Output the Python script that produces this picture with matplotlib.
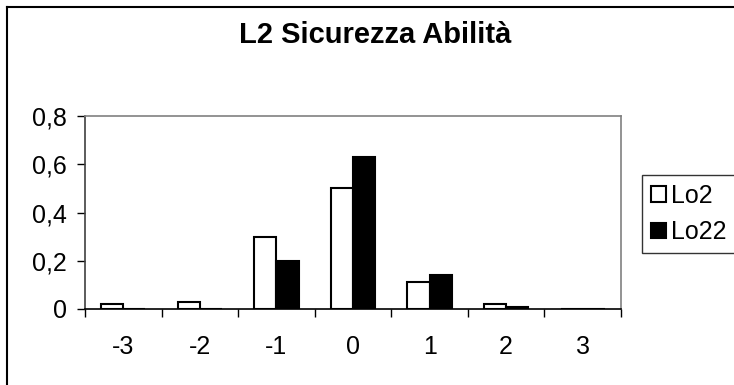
import numpy as np
import matplotlib.pyplot as plt
from matplotlib.lines import Line2D

categories = ["-3", "-2", "-1", "0", "1", "2", "3"]
lo2 = [0.02, 0.03, 0.30, 0.50, 0.11, 0.02, 0.0]
lo22 = [0.0, 0.0, 0.20, 0.63, 0.14, 0.01, 0.0]
yticks = [0, 0.2, 0.4, 0.6, 0.8]
ytick_labels = ["0", "0,2", "0,4", "0,6", "0,8"]

plt.rcParams['font.family'] = ['Liberation Sans', 'DejaVu Sans']

W, H = 734, 385
fig = plt.figure(figsize=(W / 100, H / 100), dpi=100)
ax = fig.add_axes([85 / W, 1 - 309 / H, (621 - 85) / W, (309 - 116) / H])

x = np.arange(len(categories))
bw = 0.29
ax.bar(x - bw / 2, lo2, bw, color='white', edgecolor='black', linewidth=1.5, label='Lo2', zorder=2)
ax.bar(x + bw / 2, lo22, bw, color='black', edgecolor='black', linewidth=1.5, label='Lo22', zorder=2)

ax.set_xlim(-0.5, len(categories) - 0.5)
ax.set_ylim(0, 0.8)
ax.set_yticks(yticks)
ax.set_yticklabels(ytick_labels, fontsize=18)

# category boundaries get the tick marks, centers get the labels
ax.set_xticks(np.arange(len(categories) + 1) - 0.5)
ax.set_xticklabels([])
ax.set_xticks(x, minor=True)
ax.set_xticklabels(categories, minor=True, fontsize=18)
ax.tick_params(axis='x', which='major', length=6, width=1, color='black')
ax.tick_params(axis='x', which='minor', length=0, pad=19)
ax.tick_params(axis='y', length=6, width=1, pad=7)

for s in ['top', 'right']:
    ax.spines[s].set_color('#808080')
    ax.spines[s].set_linewidth(1.2)
ax.spines['left'].set_color('#404040')
ax.spines['bottom'].set_color('black')
ax.spines['left'].set_linewidth(1.2)
ax.spines['bottom'].set_linewidth(1.2)
for s in ax.spines.values():
    s.set_zorder(3)

fig.text(375 / W, 1 - 35 / H, "L2 Sicurezza Abilità", ha='center', va='center',
         fontsize=21, fontweight='bold')

leg = fig.legend(loc='upper left', bbox_to_anchor=(642 / W, 1 - 175 / H),
                 fontsize=18, frameon=True, fancybox=False, edgecolor='black',
                 handlelength=0.6, handleheight=0.6, handletextpad=0.2,
                 borderpad=0.35, labelspacing=0.5, borderaxespad=0)
leg.get_frame().set_linewidth(1)

# outer chart border (only top and left are visible in the frame)
fig.add_artist(Line2D([7 / W, 7 / W], [0, 1 - 7 / H], color='black', linewidth=1.5))
fig.add_artist(Line2D([7 / W, 1], [1 - 7 / H, 1 - 7 / H], color='black', linewidth=1.5))

fig.savefig("out.png", dpi=100)
